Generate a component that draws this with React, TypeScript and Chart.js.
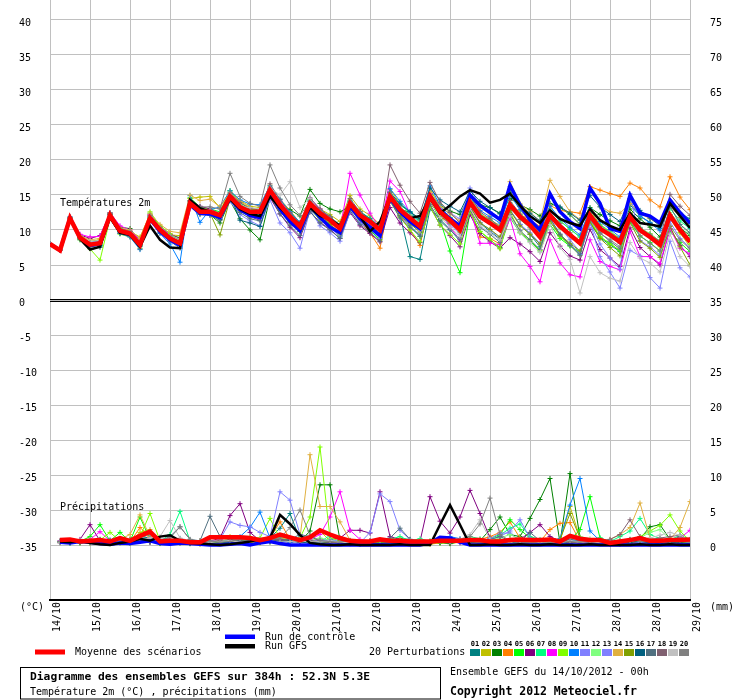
import React, { useEffect, useRef } from "react";
import { Chart, registerables } from "chart.js";
Chart.register(...registerables);

const FONT = "'DejaVu Sans Mono', monospace";

const dayLabels = ["14/10","15/10","16/10","17/10","18/10","19/10","20/10","21/10","22/10","23/10","24/10","25/10","26/10","27/10","28/10","28/10","29/10"];
const tempHours = [0,6,12,18,24,30,36,42,48,54,60,66,72,78,84,90,96,102,108,114,120,126,132,138,144,150,156,162,168,174,180,186,192,198,204,210,216,222,228,234,240,246,252,258,264,270,276,282,288,294,300,306,312,318,324,330,336,342,348,354,360,366,372,378,384];
const precipHours = tempHours.slice(1);

const pertColors = ["#008080","#c0c000","#008000","#ff8000","#00ff00","#800080","#00ff80","#ff00ff","#80ff00","#0080ff","#8080ff","#80ff80","#8080ff","#e0b040","#80a000","#006080","#507080","#806070","#c0c0c0","#808080"];
const pertNames = ["01","02","03","04","05","06","07","08","09","10","11","12","13","14","15","16","17","18","19","20"];

// ---------- Temperature 2m (°C) ----------
const tMean = [8.0,7.1,11.7,8.9,7.9,8.1,12.1,9.9,9.5,7.9,11.7,10.0,8.8,
8.1,13.8,12.6,12.6,12.1,14.8,13.3,12.6,12.6,15.7,13.6,11.9,10.5,
13.8,12.4,11.4,10.2,13.8,12.1,11.2,10.0,14.8,12.9,11.7,10.5,14.8,
12.6,11.4,10.0,14.0,11.9,11.0,10.0,13.6,11.9,10.7,9.0,12.1,10.5,
9.3,8.1,12.1,10.2,9.3,8.3,11.9,10.0,9.0,7.9,12.1,10.0,8.3];
const tGfs = [8.0,7.1,11.7,8.7,7.2,7.6,11.8,9.6,9.3,7.6,10.6,8.6,7.5,
7.4,14.3,13.1,12.6,12.2,14.4,13.0,12.3,12.0,14.8,13.2,11.8,10.8,
13.2,12.0,11.5,10.6,13.6,12.0,9.8,11.2,14.8,12.9,11.7,12.0,14.5,
12.4,13.5,14.8,15.7,15.2,13.9,14.3,15.2,13.5,12.0,11.0,12.8,11.6,
11.0,10.6,13.0,11.4,10.6,10.0,12.4,11.0,10.8,10.5,13.8,12.0,10.3];
const tControl = [8.0,7.1,11.7,8.9,7.8,8.0,12.0,9.8,9.4,7.8,11.6,9.8,8.6,
7.8,13.6,12.4,12.3,11.8,14.6,12.9,12.1,11.8,15.3,13.0,11.2,9.9,
13.4,11.8,10.4,9.6,13.4,11.6,10.4,9.2,14.6,12.6,11.2,10.2,14.9,
12.8,11.6,10.6,15.0,13.5,12.5,11.5,16.4,13.6,11.4,10.0,15.2,12.6,
11.2,10.2,16.0,13.8,10.2,9.8,15.0,12.4,12.0,11.0,14.3,12.5,11.0];

const tP01 = [8.0,7.1,11.8,8.6,7.6,7.9,12.0,9.6,9.3,7.7,11.5,9.7,8.5,
7.8,13.9,12.9,12.5,11.8,14.6,13.0,12.2,12.4,15.4,13.1,11.2,9.8,
13.2,11.6,10.6,9.3,13.1,11.4,10.3,8.9,14.2,12.1,6.2,5.8,13.0,
11.5,10.1,8.4,13.4,11.0,9.8,8.7,12.8,10.8,9.4,7.6,11.2,9.2,
7.9,6.6,11.0,8.9,7.9,6.9,13.6,12.0,11.1,10.2,13.5,12.4,11.6];
const tP02 = [8.0,7.1,11.7,9.2,8.4,8.6,12.4,10.3,9.8,9.0,12.2,10.5,9.3,
9.2,14.5,14.7,14.8,13.2,15.6,14.2,13.4,13.2,16.4,14.4,12.8,11.0,
14.3,13.0,12.2,11.2,14.9,13.0,12.1,10.8,15.8,13.8,12.4,11.3,15.9,
13.2,11.8,10.5,14.8,12.3,11.5,10.6,15.7,12.8,11.4,10.0,13.0,11.3,
10.2,9.0,12.8,10.8,9.8,8.8,12.4,10.2,9.5,8.4,12.0,9.6,7.6];
const tP03 = [8.0,7.1,11.6,8.8,7.8,8.3,12.2,10.4,10.2,8.3,11.8,10.1,9.0,
8.6,13.6,12.4,12.2,11.0,14.2,11.6,10.0,8.6,14.6,13.4,12.9,12.0,
15.8,13.8,13.0,12.6,13.4,12.0,11.2,10.4,14.4,13.0,12.5,11.6,15.1,
13.6,12.7,12.2,15.0,13.6,13.2,12.4,14.5,13.6,12.9,12.0,13.8,13.2,
12.2,10.8,13.2,12.2,11.3,10.6,13.0,11.6,10.4,9.0,12.2,10.3,9.2];
const tP04 = [8.0,7.1,11.7,9.0,8.2,8.0,12.2,10.0,9.6,8.0,11.6,10.2,9.0,
8.3,13.9,12.8,12.8,12.4,14.9,13.5,12.9,12.8,15.5,13.4,11.6,10.1,
13.3,11.9,10.9,9.5,13.2,11.2,9.6,7.4,14.6,12.0,10.0,7.8,14.0,
11.9,10.9,9.8,13.2,9.0,8.8,8.0,13.4,12.2,11.5,10.5,13.5,12.8,
12.6,12.4,16.2,15.7,15.2,14.8,16.7,16.0,14.3,13.3,17.6,14.7,12.9];
const tP05 = [8.0,7.1,11.8,9.1,8.3,8.5,12.4,10.1,9.7,8.1,12.4,10.5,9.3,
8.9,14.6,13.3,13.0,12.6,15.6,13.9,13.0,12.9,16.1,14.0,12.3,10.6,
14.3,12.3,10.9,9.0,13.4,11.3,10.0,8.6,14.2,12.1,10.6,9.1,14.4,
11.4,7.0,3.9,12.6,9.8,8.6,7.5,11.8,9.6,8.4,7.0,10.8,8.8,
7.7,6.9,11.1,9.0,8.1,7.0,11.2,9.1,8.2,7.0,9.8,8.2,6.9];
const tP06 = [8.0,7.1,11.7,9.3,8.8,9.2,12.3,10.2,9.8,8.6,12.0,10.4,9.4,
8.8,14.2,13.4,13.0,12.3,14.9,12.9,11.9,11.4,14.6,12.3,10.4,8.9,
12.6,11.1,10.1,8.8,12.5,10.6,9.5,8.3,13.2,11.0,9.6,8.2,13.4,
10.7,9.2,7.6,12.2,9.5,8.3,7.4,8.9,8.0,6.9,5.5,9.6,7.7,
6.3,5.7,10.1,7.2,6.0,4.8,10.3,7.5,6.2,5.0,10.2,7.8,6.2];
const tP07 = [8.0,7.1,11.6,8.7,7.7,7.8,11.9,9.8,9.4,7.8,11.8,9.9,8.6,
8.0,13.7,12.5,12.6,12.1,15.0,13.6,12.9,12.7,15.9,13.9,12.4,11.0,
14.3,12.9,11.9,10.7,14.2,12.6,11.7,10.5,15.4,13.6,12.5,11.2,15.2,
13.0,11.8,10.6,14.1,12.2,11.4,10.3,13.9,12.2,11.1,9.8,12.8,11.3,
10.1,9.0,12.5,10.7,9.7,8.7,12.0,10.3,9.4,8.4,13.1,11.3,10.2];
const tP08 = [8.0,7.1,11.7,9.4,9.0,9.1,12.5,10.6,10.0,8.5,12.2,10.4,9.4,
8.6,14.0,12.8,12.9,12.2,15.0,13.4,12.6,12.5,15.9,14.1,12.3,10.6,
14.5,13.0,11.8,10.0,18.1,15.0,12.4,10.2,17.0,15.5,12.3,10.7,15.2,
12.6,10.4,8.6,13.0,8.1,8.1,7.9,11.7,6.6,4.8,2.6,8.6,5.3,
3.6,3.3,8.6,5.5,4.8,4.3,9.8,6.2,6.2,5.2,10.2,7.4,6.6];
const tP09 = [8.0,7.1,11.7,8.6,7.3,5.7,11.6,9.4,9.0,7.4,12.6,10.6,9.5,
8.4,14.0,13.1,12.9,12.0,14.5,12.8,12.0,11.8,15.2,12.9,11.2,9.9,
13.0,11.4,10.4,9.2,13.4,11.2,10.2,9.0,14.1,11.8,10.0,8.3,13.3,
10.7,9.4,8.0,12.6,9.8,8.7,7.3,12.6,9.7,8.6,7.1,11.3,9.1,
7.8,6.4,11.4,9.1,8.0,7.1,12.5,10.0,9.1,7.6,11.6,9.6,8.0];
const tP10 = [8.0,7.1,11.9,8.9,7.7,7.8,12.3,9.5,9.0,7.2,11.9,9.5,8.0,
5.4,14.9,11.1,12.9,13.3,15.6,14.3,13.7,13.6,16.3,14.4,12.6,11.1,
14.2,12.8,11.6,10.5,14.0,12.4,11.1,9.8,15.9,14.1,12.6,11.0,16.3,
13.5,11.7,10.2,14.8,12.8,11.9,11.0,15.0,12.9,11.5,10.0,13.4,11.6,
10.4,9.3,13.0,11.2,10.1,9.0,14.0,12.0,11.0,9.9,13.7,11.8,10.4];
const tP11 = [8.0,7.1,11.7,8.8,8.0,8.2,12.0,9.8,9.5,7.9,11.5,9.8,8.7,
7.9,13.6,12.4,12.1,11.6,14.1,12.2,11.3,10.6,14.3,11.0,9.6,7.4,
12.9,10.6,9.6,8.4,12.6,11.0,10.1,9.2,14.1,12.3,11.2,10.3,14.6,
13.1,12.4,11.6,16.0,13.4,12.6,11.7,16.2,13.3,11.8,10.2,12.6,10.4,
8.6,6.9,11.0,8.0,6.0,4.4,15.2,8.5,7.6,6.4,11.2,8.8,7.5];
const tP12 = [8.0,7.1,11.6,9.0,8.1,7.6,11.8,9.9,9.6,8.3,11.9,10.2,9.2,
8.7,14.2,12.7,12.6,11.9,14.6,13.2,12.5,12.2,15.2,13.0,11.4,10.1,
13.4,12.0,11.2,10.2,14.0,12.4,11.6,10.5,15.0,13.1,12.2,11.0,14.3,
12.3,11.2,9.8,13.6,12.0,11.2,10.0,13.2,11.5,10.4,9.0,11.9,10.2,
9.4,8.2,12.3,10.4,9.6,8.5,12.1,10.4,9.4,8.4,12.5,10.8,9.4];
const tP13 = [8.0,7.1,11.7,9.1,8.3,8.4,12.1,10.1,9.7,8.2,11.6,10.0,9.1,
8.5,13.7,12.6,12.4,11.8,14.3,12.8,11.9,11.6,15.0,13.2,11.5,10.0,
13.1,11.5,10.3,9.1,13.2,11.1,10.1,8.8,14.5,12.0,10.6,9.3,14.1,
12.1,10.8,9.4,13.4,11.1,10.0,8.9,12.9,10.8,9.6,8.1,11.6,9.4,
8.0,6.5,11.1,6.2,4.0,1.7,7.1,6.3,3.2,1.7,8.4,4.6,3.3];
const tP14 = [8.0,7.1,11.8,9.2,8.6,8.8,12.3,10.3,10.0,8.8,12.4,10.8,9.8,
9.6,15.0,14.2,14.4,13.3,15.3,14.1,13.2,12.9,15.6,13.4,11.6,10.1,
13.4,11.8,10.6,9.6,13.3,11.6,10.5,9.4,14.4,12.5,11.1,9.9,15.4,
13.4,12.3,11.3,14.9,13.2,12.3,11.4,16.9,13.8,12.6,11.2,17.1,14.8,
12.6,11.5,15.7,13.4,12.6,12.4,13.8,12.4,11.6,10.8,13.4,11.8,11.2];
const tP15 = [8.0,7.1,11.7,8.8,7.8,8.0,12.0,9.8,9.4,7.8,11.6,9.9,8.9,
8.2,13.4,12.3,12.4,9.3,14.4,12.7,12.0,11.9,15.1,12.8,11.1,9.8,
13.0,11.8,10.8,9.6,13.1,11.6,10.7,9.5,14.3,12.0,10.9,9.7,14.0,
12.0,11.0,9.7,13.3,11.0,10.1,9.0,12.8,10.6,9.4,8.0,11.3,9.3,
8.1,7.0,11.2,8.8,7.5,6.3,11.1,8.4,7.4,6.1,10.5,7.6,5.0];
const tP16 = [8.0,7.1,11.7,9.0,8.0,7.7,12.2,9.7,9.4,7.7,11.9,10.1,8.8,
8.0,13.7,12.5,12.4,11.5,15.1,11.4,11.0,10.5,14.8,13.2,12.1,10.9,
14.1,12.8,11.8,10.7,14.0,12.6,11.6,10.4,15.4,13.7,12.6,11.6,16.0,
14.3,13.4,12.6,15.6,14.1,13.2,12.3,15.4,13.4,12.4,11.3,14.8,13.3,
12.4,11.4,14.9,13.3,12.2,11.2,14.5,12.8,11.7,10.6,14.1,12.2,10.9];
const tP17 = [8.0,7.1,11.6,8.7,7.4,7.5,11.8,9.5,9.1,7.3,11.3,9.6,8.4,
7.4,13.5,12.2,12.1,11.4,14.3,12.5,11.6,11.3,14.9,12.3,10.6,9.2,
12.6,11.0,10.0,8.8,12.8,10.8,9.7,8.4,14.2,11.7,10.4,9.1,13.6,
11.3,10.0,8.7,12.9,10.4,9.4,8.2,12.2,9.9,8.6,7.2,11.7,9.4,
7.8,6.4,11.6,9.6,8.4,7.3,12.4,10.3,9.2,8.2,13.4,10.8,9.6];
const tP18 = [8.0,7.1,11.7,9.0,8.1,8.3,12.3,10.1,9.7,8.1,12.0,10.3,9.2,
8.5,14.1,13.0,12.9,12.4,15.3,13.9,13.1,12.9,16.6,14.3,12.5,11.0,
14.6,13.0,11.9,10.7,14.5,12.6,11.4,10.3,19.3,16.4,14.1,12.4,16.8,
14.0,12.5,11.0,15.0,12.6,11.6,10.4,14.2,12.3,11.1,9.6,12.5,10.9,
9.6,8.4,12.4,10.5,9.4,8.1,12.4,10.2,9.3,8.4,15.1,13.4,12.1];
const tP19 = [8.0,7.1,11.7,9.1,8.4,8.5,12.1,10.0,9.7,8.4,11.9,10.2,9.1,
8.5,13.9,12.9,12.8,12.4,15.0,13.4,13.2,13.0,16.0,15.0,16.9,13.2,
14.5,12.6,11.4,10.1,13.8,12.0,10.9,9.8,14.8,12.5,11.2,9.9,14.2,
11.8,10.4,9.1,13.1,10.6,9.6,8.6,12.0,9.6,8.2,6.8,10.8,7.5,
5.8,1.0,6.2,3.9,3.1,2.7,8.2,6.0,5.3,4.0,9.4,6.2,4.8];
const tP20 = [8.0,7.1,11.7,9.1,8.2,8.2,12.5,10.2,9.8,8.3,12.1,10.2,9.1,
8.2,14.2,13.3,13.3,13.0,18.1,14.8,13.8,13.4,19.3,16.0,13.6,12.1,
14.1,12.8,11.8,10.6,14.3,12.5,11.3,10.1,15.4,13.3,12.0,10.8,15.0,
12.8,11.6,10.4,13.9,12.0,11.1,10.0,13.5,11.5,10.3,9.1,11.9,10.5,
9.2,8.1,11.5,9.5,8.6,7.6,11.4,9.2,8.1,7.0,10.6,8.6,7.3];
const tPerts = [tP01,tP02,tP03,tP04,tP05,tP06,tP07,tP08,tP09,tP10,tP11,tP12,tP13,tP14,tP15,tP16,tP17,tP18,tP19,tP20];

// ---------- Precipitation (mm) ----------
const pMean = [0.7,0.8,0.5,0.6,0.7,0.5,1.0,0.6,1.3,1.9,0.5,0.6,0.6,0.4,0.4,1.1,
1.1,1.1,1.1,1.0,0.7,1.0,1.5,1.1,0.7,1.1,2.1,1.5,1.0,0.6,0.5,0.5,
0.8,0.6,0.6,0.5,0.5,0.5,0.6,0.6,0.6,0.7,0.7,0.5,0.5,0.7,0.8,0.7,
0.7,0.8,0.5,1.3,0.9,0.7,0.7,0.3,0.5,0.7,1.0,0.6,0.6,0.7,0.7,0.8];
const pGfs = [0.5,0.4,0.6,0.3,0.1,0.0,0.3,0.5,0.9,0.6,1.2,1.4,0.6,0.3,0.2,0.1,
0.0,0.1,0.3,0.5,0.8,1.0,4.3,3.0,1.4,0.3,0.1,0.0,0.0,0.1,0.0,0.0,
0.0,0.0,0.1,0.0,0.0,0.0,2.9,5.7,2.9,0.0,0.0,0.1,0.0,0.0,0.1,0.0,
0.0,0.1,0.0,0.0,0.0,0.1,0.0,0.0,0.0,0.0,0.1,0.0,0.0,0.1,0.0,0.0];
const pControl = [0.4,0.3,0.5,0.4,0.2,0.1,0.3,0.2,0.4,0.6,0.2,0.1,0.3,0.2,0.1,0.0,
0.0,0.1,0.2,0.0,0.3,0.5,0.2,0.0,0.0,0.0,0.0,0.0,0.0,0.0,0.0,0.0,
0.0,0.0,0.0,0.0,0.0,0.3,1.1,1.0,0.4,0.0,0.0,0.0,0.0,0.0,0.0,0.0,
0.0,0.0,0.0,0.0,0.0,0.0,0.0,0.0,0.0,0.0,0.0,0.0,0.0,0.0,0.0,0.0];

const pP01 = [0.5,0.6,0.4,0.3,0.8,0.2,0.5,0.3,1.2,1.0,0.2,0.6,0.9,0.3,0.2,0.4,
0.6,0.5,0.8,0.4,0.6,1.0,2.4,4.5,0.8,0.3,0.2,0.5,0.3,0.2,0.1,0.3,
0.4,0.2,0.3,0.5,0.2,0.3,0.4,0.2,0.6,0.8,0.3,0.5,0.2,0.4,0.6,0.3,
0.2,0.4,0.3,0.2,0.5,0.3,0.2,0.1,0.3,0.5,0.7,0.4,0.2,0.6,0.4,0.3];
const pP02 = [0.4,0.5,0.3,0.2,0.6,0.3,0.8,0.5,1.8,2.2,0.4,0.5,0.6,0.2,0.1,0.3,
0.8,1.2,0.6,0.4,0.3,0.9,1.1,0.6,0.4,0.8,2.0,0.6,0.3,0.2,0.4,0.2,
0.3,0.2,0.4,0.3,0.2,0.1,0.3,0.2,0.4,0.3,0.2,0.5,0.8,0.6,0.3,0.2,
0.4,0.8,0.5,5.5,1.0,0.4,0.3,0.2,0.1,0.2,0.6,0.4,0.3,0.5,0.3,0.4];
const pP03 = [0.5,0.3,0.6,0.8,0.4,0.2,0.5,0.7,0.9,0.6,0.3,0.4,0.8,0.2,0.3,0.4,
0.5,0.7,0.6,1.0,0.8,0.4,0.6,0.9,0.5,2.0,8.6,8.6,0.7,0.4,0.3,0.5,
0.6,0.4,0.9,0.8,0.5,0.3,0.4,0.2,0.5,0.7,0.6,2.2,4.0,1.5,1.2,3.8,
6.5,9.5,0.3,10.2,1.0,0.6,0.4,0.3,0.2,0.5,0.9,2.6,2.9,0.8,0.5,0.3];
const pP04 = [0.3,0.5,0.4,0.6,0.3,0.5,0.6,0.4,2.5,1.2,0.3,0.4,0.5,0.3,0.2,0.5,
0.4,0.6,0.8,0.5,0.7,1.0,3.3,0.8,0.5,0.6,0.9,0.4,0.3,0.5,0.2,0.3,
0.5,0.8,0.4,0.3,0.5,0.2,0.4,0.3,0.5,0.6,0.8,1.2,1.8,3.3,1.0,0.6,
0.5,2.2,3.1,3.2,0.5,0.4,0.3,0.2,0.6,0.4,0.5,0.3,0.4,0.2,0.5,0.3];
const pP05 = [0.6,0.4,0.5,1.2,2.9,0.6,1.8,0.5,4.0,0.8,0.3,0.6,0.4,0.5,0.3,0.4,
0.3,0.6,0.9,0.5,0.8,0.6,1.2,0.9,0.4,0.3,0.6,0.5,0.4,0.2,0.3,0.6,
0.4,0.3,0.5,0.7,0.4,0.6,0.3,0.5,0.8,0.6,0.4,0.9,1.5,3.6,2.2,1.0,
0.6,0.4,0.5,0.7,2.2,6.9,1.0,0.5,0.4,0.3,0.8,0.5,0.9,0.6,0.4,0.3];
const pP06 = [0.5,0.6,0.8,2.9,0.6,0.4,0.5,0.3,0.6,0.4,0.8,0.5,0.3,0.6,0.4,0.5,
1.0,4.2,5.9,1.8,0.6,0.8,0.5,0.4,0.6,0.3,0.5,0.8,1.0,2.1,2.1,1.7,
7.6,1.2,0.8,0.4,0.5,6.9,3.4,1.7,4.0,7.8,4.5,1.0,0.6,0.4,0.8,1.8,
2.9,1.2,0.6,0.4,0.3,0.5,0.6,0.4,0.3,0.5,0.4,0.6,0.3,0.5,0.4,0.3];
const pP07 = [0.4,0.5,0.3,0.6,0.8,0.5,0.4,0.6,0.9,0.7,0.5,1.5,4.8,0.6,0.3,0.5,
0.4,0.5,0.6,0.8,0.5,1.0,0.7,0.5,0.9,0.6,0.4,1.4,0.8,0.5,0.3,0.4,
0.6,0.8,1.2,0.6,0.9,0.5,0.4,0.6,0.8,1.2,0.9,0.6,1.4,2.4,3.0,1.2,
0.8,0.5,0.6,0.7,0.4,0.6,1.0,0.5,1.2,2.0,3.8,1.5,0.9,0.7,1.4,0.8];
const pP08 = [0.6,0.5,0.7,0.8,1.9,0.6,0.5,0.4,0.8,1.0,0.6,0.3,0.5,0.4,0.6,0.5,
0.7,0.6,0.9,0.5,0.6,0.8,0.4,0.6,0.5,0.8,1.5,4.0,7.6,2.1,0.8,0.6,
0.5,0.4,0.6,0.3,0.5,0.4,0.6,0.5,0.3,0.4,0.6,0.5,0.8,0.6,0.4,0.5,
0.3,0.5,0.4,0.6,0.3,0.5,0.4,0.3,0.2,0.4,0.5,0.3,0.4,0.6,1.0,2.1];
const pP09 = [0.5,0.4,0.6,0.5,0.7,1.8,0.6,0.8,1.2,4.5,0.6,0.4,0.5,0.3,0.6,0.4,
0.5,0.8,0.6,1.1,1.0,3.8,0.9,0.6,1.0,4.0,14.0,1.0,0.6,0.4,0.5,0.3,
0.4,0.6,0.3,0.5,0.4,0.3,0.5,0.6,0.4,0.3,0.5,0.8,0.6,0.5,0.9,0.6,
0.4,0.6,0.8,0.5,0.4,0.6,0.5,0.3,0.6,0.8,1.2,2.0,2.8,4.3,2.0,0.6];
const pP10 = [0.4,0.3,0.5,0.6,0.4,0.2,0.5,0.3,0.6,0.8,0.4,0.5,0.3,0.4,0.2,0.3,
0.5,0.8,1.2,2.5,4.7,1.0,0.6,0.4,0.5,0.3,0.6,0.8,0.4,0.5,0.3,0.4,
0.6,0.5,0.4,0.3,0.5,0.4,0.8,1.2,0.9,0.6,0.5,0.4,0.6,0.5,0.8,0.6,
0.4,0.5,0.9,5.7,9.5,2.0,0.6,0.4,0.3,0.5,0.4,0.6,0.3,0.5,0.4,0.3];
const pP11 = [0.5,0.4,0.6,0.3,0.5,0.8,0.4,0.6,0.5,0.7,0.4,0.6,0.8,0.5,0.3,0.4,
0.8,3.3,2.8,2.6,1.8,1.2,7.6,6.4,1.5,0.6,0.4,0.5,0.8,0.6,0.4,0.3,
0.5,0.4,0.6,0.5,0.3,0.4,0.6,0.5,0.8,0.6,0.4,0.9,1.7,1.7,0.6,0.5,
0.4,0.6,0.5,0.3,0.4,0.6,0.5,0.4,0.3,0.5,0.6,0.4,0.8,0.5,0.3,0.4];
const pP12 = [0.4,0.6,0.5,0.8,0.6,0.4,0.5,0.3,0.7,0.9,0.5,0.6,0.4,0.6,0.5,0.3,
0.6,0.8,1.0,0.7,0.5,0.9,1.2,0.8,0.5,0.6,1.0,0.7,0.4,0.6,0.5,0.4,
0.6,0.5,0.8,0.4,0.6,0.5,0.7,0.9,0.6,0.8,0.5,0.7,1.0,1.5,0.8,0.6,
0.5,0.7,0.6,0.8,1.2,0.9,0.6,0.5,0.7,0.6,1.0,1.8,2.2,0.8,0.6,0.5];
const pP13 = [0.3,0.5,0.4,0.6,0.5,0.3,0.6,0.4,0.5,0.8,0.6,0.4,0.5,0.3,0.4,0.6,
0.5,0.4,0.7,0.6,0.8,0.5,0.9,0.6,0.4,0.5,0.7,0.6,0.5,0.4,0.3,1.8,
7.3,6.2,2.1,0.8,0.5,0.4,0.6,0.5,0.3,0.4,0.6,0.8,1.2,2.0,3.6,1.0,
0.6,0.4,0.5,0.8,0.6,0.5,0.4,0.3,0.5,0.6,0.4,0.5,0.3,0.4,0.6,0.5];
const pP14 = [0.5,0.4,0.6,0.5,0.7,0.4,0.8,1.5,4.3,1.2,0.6,0.5,0.4,0.6,0.3,0.5,
0.6,0.4,0.8,0.5,0.7,0.6,0.9,0.8,1.0,12.9,5.5,5.5,3.3,0.7,0.5,0.4,
0.5,0.6,0.8,0.4,0.5,0.3,0.6,0.4,0.5,0.7,0.4,0.6,0.8,0.5,0.6,0.4,
0.5,0.3,0.6,0.4,0.5,0.6,0.4,0.8,1.5,2.5,6.0,1.0,0.6,0.8,2.5,6.2];
const pP15 = [0.4,0.6,0.3,0.5,0.4,0.6,0.5,0.3,0.8,0.6,0.4,0.5,0.3,0.6,0.4,0.5,
0.3,0.5,0.6,0.8,0.4,0.6,0.5,0.9,0.6,0.4,0.5,0.3,0.6,0.4,0.5,0.3,
0.4,0.5,0.3,0.6,0.4,0.5,0.3,0.4,0.6,0.5,0.3,0.4,0.6,0.8,0.5,0.4,
0.6,0.5,0.8,4.5,1.0,0.6,0.4,0.3,0.5,0.4,0.6,0.5,0.7,0.4,0.3,0.5];
const pP16 = [0.5,0.3,0.4,0.6,0.5,0.4,0.3,0.5,0.6,0.4,0.5,0.3,0.4,0.2,0.3,0.5,
0.4,0.3,0.5,0.6,0.4,0.5,0.8,0.6,0.4,0.3,0.5,0.4,0.3,0.2,0.4,0.3,
0.2,0.4,0.3,0.5,0.2,0.3,0.4,0.3,0.5,0.4,0.3,0.2,0.4,0.3,0.5,0.4,
0.3,0.2,0.4,0.3,0.5,0.4,0.3,0.2,0.3,0.4,0.5,0.3,0.2,0.4,0.3,0.2];
const pP17 = [0.4,0.5,0.6,0.8,0.5,0.6,0.4,0.5,0.8,1.0,0.6,1.2,2.6,0.8,0.6,4.1,
1.2,0.8,0.6,0.5,0.8,1.0,0.6,0.8,1.5,1.2,0.6,0.5,0.4,0.6,0.5,0.4,
0.6,1.0,2.4,0.8,0.5,0.4,0.6,0.8,0.5,0.6,0.4,0.8,1.2,0.6,0.5,1.8,
0.6,0.5,0.4,0.8,0.6,0.5,0.4,0.6,0.5,0.8,0.6,0.5,0.4,0.6,1.2,0.8];
const pP18 = [0.5,0.4,0.6,0.5,0.4,0.6,0.5,0.8,0.6,0.4,0.5,0.6,0.4,0.5,0.3,0.4,
0.6,0.5,0.4,0.7,0.5,0.6,0.8,0.5,0.4,0.6,0.5,0.4,0.3,0.5,0.4,0.6,
0.5,0.4,0.6,0.5,0.3,0.4,0.5,0.6,0.4,0.5,0.3,0.4,0.6,0.5,0.4,0.3,
0.5,0.4,0.6,0.3,0.5,0.4,0.6,0.8,1.5,3.6,1.2,0.8,1.0,1.2,1.4,0.6];
const pP19 = [0.4,0.5,0.6,0.8,0.6,0.4,0.5,0.6,0.8,1.0,1.2,3.5,1.0,0.6,0.5,0.4,
0.5,0.6,0.4,0.5,0.8,0.6,0.4,0.5,0.6,0.4,0.5,0.6,0.4,0.3,0.5,0.4,
0.6,0.5,0.4,0.6,0.5,0.4,0.6,0.5,0.8,1.5,3.6,0.8,0.5,0.4,0.6,0.5,
0.4,0.5,0.3,0.6,0.4,0.5,0.3,0.4,0.6,0.5,0.8,1.0,1.4,1.8,1.4,0.6];
const pP20 = [0.5,0.6,0.4,0.5,0.8,0.6,0.5,0.4,1.0,1.5,0.8,1.0,2.6,0.8,0.5,0.6,
0.4,0.5,0.8,0.6,0.5,0.8,1.0,2.5,5.0,1.4,0.6,0.5,0.4,0.6,0.5,0.4,
0.5,0.6,0.4,0.5,0.6,0.4,0.5,0.6,0.8,1.2,3.0,6.7,1.5,0.6,0.5,0.4,
0.5,0.4,0.6,0.5,0.4,0.6,0.5,0.4,0.6,0.8,0.5,0.6,0.4,0.5,0.6,0.4];
const pPerts = [pP01,pP02,pP03,pP04,pP05,pP06,pP07,pP08,pP09,pP10,pP11,pP12,pP13,pP14,pP15,pP16,pP17,pP18,pP19,pP20];

const yHalf = 300 / 7; // visible range ±42.857 °C
const precipOffset = 35; // right axis = left axis + 35

function series(vals: number[], hours: number[], axis: string, color: string, width: number, markers: boolean, order: number) {
  return {
    type: "line",
    data: vals.map((v, i) => ({ x: hours[i], y: v })),
    xAxisID: "x",
    yAxisID: axis,
    borderColor: color,
    backgroundColor: color,
    borderWidth: width,
    pointRadius: markers ? 2.5 : 0,
    pointStyle: "cross",
    pointBorderColor: color,
    pointBorderWidth: 1,
    tension: 0,
    fill: false,
    order,
  };
}

const decorPlugin = {
  id: "decor",
  beforeDatasetsDraw(chart: any) {
    const { ctx, chartArea: a, scales } = chart;
    const y0 = Math.round(scales.y.getPixelForValue(0));
    ctx.save();
    ctx.strokeStyle = "#000";
    ctx.lineWidth = 1;
    [-0.5, 1.5].forEach((d) => {
      ctx.beginPath();
      ctx.moveTo(a.left, y0 + d);
      ctx.lineTo(a.right, y0 + d);
      ctx.stroke();
    });
    ctx.restore();
  },
  afterDatasetsDraw(chart: any) {
    const { ctx, scales } = chart;
    ctx.save();
    ctx.font = `10px ${FONT}`;
    ctx.fillStyle = "#000";
    ctx.textAlign = "left";
    ctx.textBaseline = "middle";
    ctx.fillText("Températures 2m", scales.x.getPixelForValue(6), scales.y.getPixelForValue(13.8));
    ctx.fillText("Précipitations", scales.x.getPixelForValue(6), scales.y2.getPixelForValue(5.4));
    ctx.restore();
  },
  afterDraw(chart: any) {
    const { ctx, chartArea: a } = chart;
    ctx.save();
    ctx.fillStyle = "#000";
    ctx.textAlign = "left";
    ctx.textBaseline = "middle";
    ctx.font = `10px ${FONT}`;
    ctx.fillText("(°C)", 20, a.bottom + 7);
    ctx.fillText("(mm)", a.right + 20, a.bottom + 7);

    // legend
    ctx.fillStyle = "#ff0000";
    ctx.fillRect(35, 649.5, 30, 5);
    ctx.fillStyle = "#0000ff";
    ctx.fillRect(225, 634.5, 30, 4.5);
    ctx.fillStyle = "#000000";
    ctx.fillRect(225, 644, 30, 4.5);
    ctx.fillStyle = "#000";
    ctx.fillText("Moyenne des scénarios", 75, 652);
    ctx.fillText("Run de contrôle", 265, 637);
    ctx.fillText("Run GFS", 265, 646.5);
    ctx.fillText("20 Perturbations", 369, 652.5);
    pertColors.forEach((c, k) => {
      const x = 470 + 11 * k;
      ctx.fillStyle = c;
      ctx.fillRect(x, 649, 10, 7);
      ctx.fillStyle = "#000";
      ctx.font = `bold 7px ${FONT}`;
      ctx.textAlign = "center";
      ctx.fillText(pertNames[k], x + 5, 644.5);
    });

    // title box and credits
    ctx.textAlign = "left";
    ctx.strokeStyle = "#000";
    ctx.lineWidth = 1;
    ctx.strokeRect(20.5, 667.5, 420, 31.5);
    ctx.font = `bold 11.3px ${FONT}`;
    ctx.fillText("Diagramme des ensembles GEFS sur 384h : 52.3N 5.3E", 30, 677);
    ctx.font = `10px ${FONT}`;
    ctx.fillText("Température 2m (°C) , précipitations (mm)", 30, 692);
    ctx.fillText("Ensemble GEFS du 14/10/2012 - 00h", 450, 672);
    ctx.font = `bold 11.5px ${FONT}`;
    ctx.fillText("Copyright 2012 Meteociel.fr", 450, 692);
    ctx.restore();
  },
};

export default function App() {
  const ref = useRef<HTMLCanvasElement>(null);
  useEffect(() => {
    const canvas = ref.current;
    if (!canvas) return;
    const datasets: any[] = [];
    tPerts.forEach((vals, k) => datasets.push(series(vals, tempHours, "y", pertColors[k], 1, true, 100 - k)));
    pPerts.forEach((vals, k) => datasets.push(series(vals, precipHours, "y2", pertColors[k], 1, true, 100 - k)));
    datasets.push(series(tControl, tempHours, "y", "#0000ff", 3.5, false, 3));
    datasets.push(series(pControl, precipHours, "y2", "#0000ff", 3.5, false, 3));
    datasets.push(series(tGfs, tempHours, "y", "#000000", 2.5, false, 2));
    datasets.push(series(pGfs, precipHours, "y2", "#000000", 2.5, false, 2));
    datasets.push(series(tMean, tempHours, "y", "#ff0000", 4.5, false, 1));
    datasets.push(series(pMean, precipHours, "y2", "#ff0000", 4.5, false, 1));

    const tickFont = { family: FONT, size: 10 };
    const chart = new Chart(canvas, {
      type: "line",
      data: { datasets },
      plugins: [decorPlugin],
      options: {
        responsive: false,
        animation: false,
        events: [],
        layout: { autoPadding: false, padding: { left: 19, right: 0, top: 0, bottom: 0 } },
        plugins: { legend: { display: false }, tooltip: { enabled: false } },
        scales: {
          x: {
            type: "linear",
            min: 0,
            max: 384,
            grid: { color: "#c0c0c0", lineWidth: 1, drawTicks: false },
            border: { display: true, color: "#000", width: 2 },
            ticks: {
              stepSize: 24,
              autoSkip: false,
              minRotation: 90,
              maxRotation: 90,
              padding: 2,
              labelOffset: 7,
              color: "#000",
              font: tickFont,
              callback: (v: any) => dayLabels[Math.round(Number(v) / 24)] ?? "",
            },
            afterFit: (s: any) => { s.height = 100; s.paddingLeft = 0; s.paddingRight = 0; },
          },
          y: {
            type: "linear",
            position: "left",
            min: -yHalf,
            max: yHalf,
            grid: {
              color: (c: any) => (c.tick && c.tick.value < -37 ? "rgba(0,0,0,0)" : "#c0c0c0"),
              lineWidth: 1,
              drawTicks: false,
            },
            border: { display: false },
            ticks: {
              stepSize: 5,
              includeBounds: false,
              crossAlign: "far",
              padding: 0,
              labelOffset: 3,
              color: "#000",
              font: tickFont,
              callback: (v: any) => (Number(v) < -37 ? "" : String(v)),
            },
            afterFit: (s: any) => { s.width = 31; s.paddingTop = 0; s.paddingBottom = 0; },
          },
          y2: {
            type: "linear",
            position: "right",
            min: precipOffset - yHalf,
            max: precipOffset + yHalf,
            grid: { display: false, drawTicks: false },
            border: { display: false },
            ticks: {
              stepSize: 5,
              includeBounds: false,
              crossAlign: "near",
              padding: 20,
              labelOffset: 3,
              color: "#000",
              font: tickFont,
              callback: (v: any) => (Number(v) < 0 ? "" : String(v)),
            },
            afterFit: (s: any) => { s.width = 50; s.paddingTop = 0; s.paddingBottom = 0; },
          },
        },
      } as any,
    } as any);
    return () => chart.destroy();
  }, []);

  return (
    <div style={{ position: "absolute", left: 0, top: 0, width: 740, height: 700, background: "#fff" }}>
      <canvas ref={ref} width={740} height={700} style={{ width: 740, height: 700, display: "block" }} />
    </div>
  );
}
